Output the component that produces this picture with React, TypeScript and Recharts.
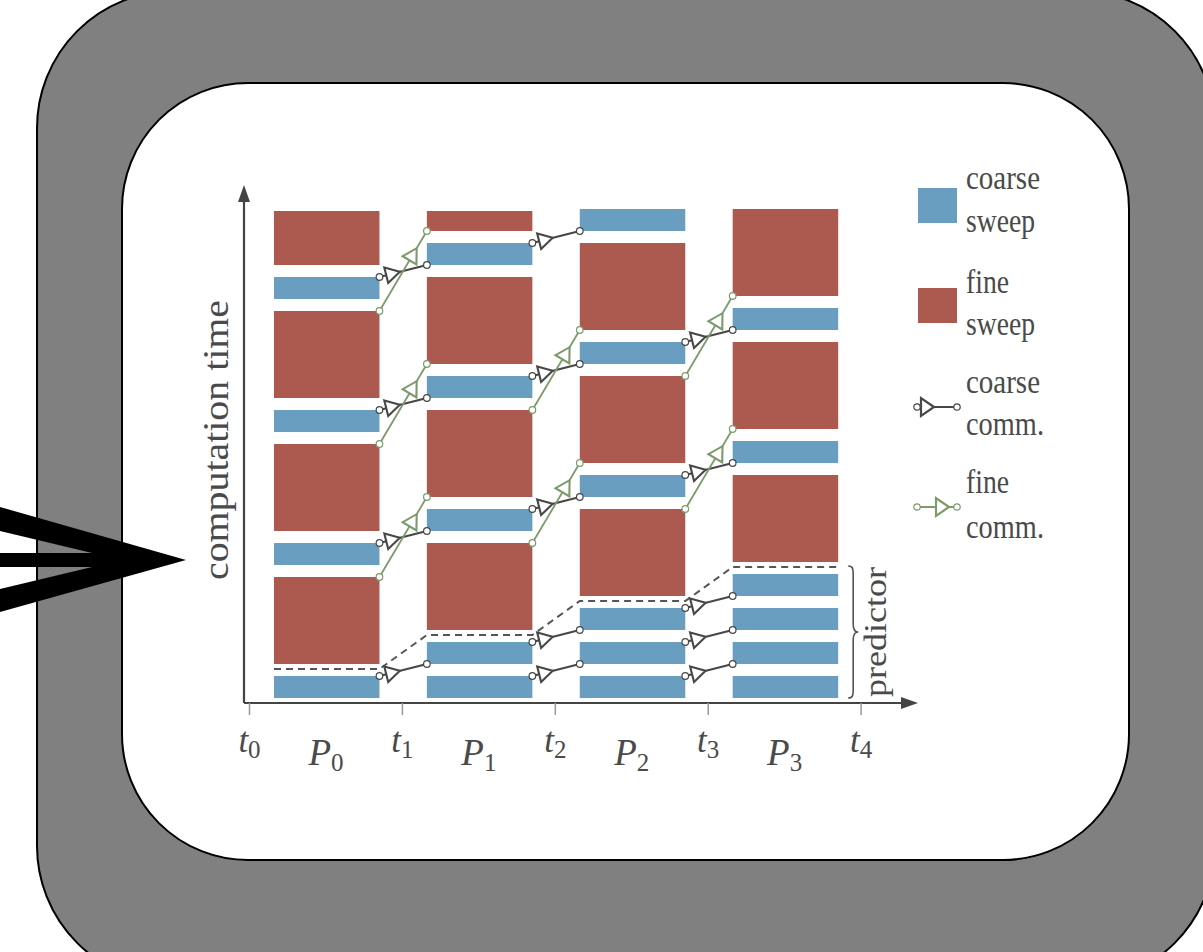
import React from 'react';
import { ComposedChart, XAxis, YAxis, ReferenceArea, ReferenceLine, Line, Legend } from 'recharts';

// ---------- data ----------
// time-slice boundaries on the x axis (t_0 ... t_4)
const sliceTicks = [0, 1, 2, 3, 4];
const sliceLabels = ['0', '1', '2', '3', '4'];
// processors, drawn between two slice boundaries (P_0 ... P_3)
const procTicks = [0.5, 1.5, 2.5, 3.5];
const procLabels = ['0', '1', '2', '3'];
const yAxisTitle = 'computation time';
const braceLabel = 'predictor';

// coarse sweeps: [processor, start, end] in computation-time units
const coarseSweeps: number[][] = [
  [0, 0, 22], [0, 133, 155], [0, 266, 288], [0, 399, 421],
  [1, 0, 22], [1, 34, 56], [1, 167, 189], [1, 300, 322], [1, 433, 455],
  [2, 0, 22], [2, 34, 56], [2, 68, 90], [2, 201, 223], [2, 334, 356], [2, 467, 489],
  [3, 0, 22], [3, 34, 56], [3, 68, 90], [3, 102, 124], [3, 235, 257], [3, 368, 390],
];
// fine sweeps: [processor, start, end]
const fineSweeps: number[][] = [
  [0, 34, 121], [0, 167, 254], [0, 300, 387], [0, 433, 487],
  [1, 68, 155], [1, 201, 288], [1, 334, 421], [1, 467, 487],
  [2, 102, 189], [2, 235, 322], [2, 368, 455],
  [3, 136, 223], [3, 269, 356], [3, 402, 489],
];
// coarse communication: [from processor, send time, receive time]
const coarseComms: number[][] = [
  [0, 22, 34], [0, 155, 167], [0, 288, 300], [0, 421, 433],
  [1, 22, 34], [1, 56, 68], [1, 189, 201], [1, 322, 334], [1, 455, 467],
  [2, 22, 34], [2, 56, 68], [2, 90, 102], [2, 223, 235], [2, 356, 368],
];
// fine communication: [from processor, send time, receive time]
const fineComms: number[][] = [
  [0, 121, 201], [0, 254, 334], [0, 387, 467],
  [1, 155, 235], [1, 288, 368],
  [2, 189, 269], [2, 322, 402],
];
// end of predictor phase per processor
const predictorEnd = [29, 63, 97, 131];
const predictorSpan = [0, 132];

// ---------- layout / style ----------
const PAD_L = 0.16;
const PAD_R = 0.15;
const X_MIN = -0.036;
const X_MAX = 4.372;
const Y_MIN = -5;
const Y_MAX = 513;

const BLUE = '#6a9ec0';
const RED = '#ac5a4f';
const DARK = '#474747';
const GREEN = '#7c9a6c';
const TEXT = '#4a4a4a';
const FONT = "'Liberation Serif', 'DejaVu Serif', serif";

const predictorPoints = predictorEnd.flatMap((v, i) => [
  { x: i + PAD_L, y: v },
  { x: i + 1 - PAD_R, y: v },
]);

const axisTicks = [...sliceTicks, ...procTicks].sort((a, b) => a - b);

function commShape(color: string, kind: 'coarse' | 'fine', width: number) {
  return (props: any) => {
    const { x1, y1, x2, y2 } = props;
    const dx = x2 - x1;
    const dy = y2 - y1;
    const len = Math.hypot(dx, dy) || 1;
    const ux = dx / len;
    const uy = dy / len;
    const nx = -uy;
    const ny = ux;
    const b = kind === 'coarse' ? 7 : len - 34;
    const a = kind === 'coarse' ? 21 : len - 20;
    const bx = x1 + ux * b;
    const by = y1 + uy * b;
    const ax = x1 + ux * a;
    const ay = y1 + uy * a;
    const hw = 8;
    const tri = `${ax},${ay} ${bx + nx * hw},${by + ny * hw} ${bx - nx * hw},${by - ny * hw}`;
    return (
      <g>
        <line x1={x1} y1={y1} x2={x2} y2={y2} stroke={color} strokeWidth={width} />
        <polygon points={tri} fill="white" stroke={color} strokeWidth={2.1} strokeLinejoin="miter" />
        <circle cx={x1} cy={y1} r={3.3} fill="white" stroke={color} strokeWidth={1.2} />
        <circle cx={x2} cy={y2} r={3.3} fill="white" stroke={color} strokeWidth={1.2} />
      </g>
    );
  };
}

function arrowParts(x1: number, y1: number, x2: number, y2: number) {
  const dx = x2 - x1;
  const dy = y2 - y1;
  const len = Math.hypot(dx, dy) || 1;
  const ux = dx / len;
  const uy = dy / len;
  const L = 17;
  const hw = 6;
  const bx = x2 - ux * L;
  const by = y2 - uy * L;
  const tri = `${x2},${y2} ${bx - uy * hw},${by + ux * hw} ${bx + uy * hw},${by - ux * hw}`;
  return (
    <>
      <line x1={x1} y1={y1} x2={bx + ux * 2} y2={by + uy * 2} stroke="#444" strokeWidth={2.2} />
      <polygon points={tri} fill="#444" stroke="none" />
    </>
  );
}

const xAxisShape = (props: any) => {
  const { x1, y1, x2, y2 } = props;
  return <g>{arrowParts(x1, y1, x2, y2)}</g>;
};

const yAxisShape = (props: any) => {
  const { x1, y1, x2, y2 } = props;
  const cy = (y1 + y2) / 2 - 4;
  return (
    <g>
      {arrowParts(x1, y1, x2, y2)}
      <text
        transform={`translate(${x1 - 16}, ${cy}) rotate(-90)`}
        textAnchor="middle"
        fontFamily={FONT}
        fontSize={35}
        fill={TEXT}
        textLength={280}
        lengthAdjust="spacingAndGlyphs"
      >
        {yAxisTitle}
      </text>
    </g>
  );
};

const braceShape = (props: any) => {
  const { x1, y1, y2 } = props;
  const yt = Math.min(y1, y2);
  const yb = Math.max(y1, y2);
  const ym = (yt + yb) / 2;
  const x0 = x1 + 10;
  const d = `M ${x0} ${yt} C ${x0 + 5} ${yt} ${x0 + 5} ${yt + 3} ${x0 + 5} ${yt + 10} L ${x0 + 5} ${ym - 8} C ${x0 + 5} ${ym - 3} ${x0 + 6} ${ym} ${x0 + 10} ${ym} C ${x0 + 6} ${ym} ${x0 + 5} ${ym + 3} ${x0 + 5} ${ym + 8} L ${x0 + 5} ${yb - 10} C ${x0 + 5} ${yb - 3} ${x0 + 5} ${yb} ${x0} ${yb}`;
  return (
    <g>
      <path d={d} fill="none" stroke="#555" strokeWidth={1.6} />
      <text
        transform={`translate(${x1 + 48}, ${ym}) rotate(-90)`}
        textAnchor="middle"
        fontFamily={FONT}
        fontSize={32}
        fill={TEXT}
        textLength={130}
        lengthAdjust="spacingAndGlyphs"
      >
        {braceLabel}
      </text>
    </g>
  );
};

const AxisTick = (props: any) => {
  const { x, y, payload } = props;
  const v = payload.value;
  const si = sliceTicks.indexOf(v);
  if (si >= 0) {
    return (
      <g>
        <line x1={x} y1={y} x2={x} y2={y + 12} stroke="#9a9a9a" strokeWidth={1.5} />
        <text x={x} y={y + 49} textAnchor="middle" fontFamily={FONT} fontSize={35} fill={TEXT}>
          <tspan fontStyle="italic">t</tspan>
          <tspan fontSize={25} dy={6}>{sliceLabels[si]}</tspan>
        </text>
      </g>
    );
  }
  const pi = procTicks.indexOf(v);
  if (pi >= 0) {
    return (
      <text x={x} y={y + 62} textAnchor="middle" fontFamily={FONT} fontSize={37} fill={TEXT}>
        <tspan fontStyle="italic">P</tspan>
        <tspan fontSize={25} dy={6}>{procLabels[pi]}</tspan>
      </text>
    );
  }
  return null;
};

const legendItems = [
  { key: 'cs', kind: 'coarseSweep', lines: ['coarse', 'sweep'] },
  { key: 'fs', kind: 'fineSweep', lines: ['fine', 'sweep'] },
  { key: 'cc', kind: 'coarseComm', lines: ['coarse', 'comm.'] },
  { key: 'fc', kind: 'fineComm', lines: ['fine', 'comm.'] },
];
const legendWordWidth: Record<string, number> = { coarse: 74, sweep: 69, fine: 43, 'comm.': 78 };

const LegendBox = () => {
  const baselines = [[34, 77], [138, 180], [238, 280], [338, 383]];
  const iconY = [50, 150, 252, 352];
  return (
    <svg width={200} height={400} style={{ display: 'block', overflow: 'visible' }}>
      {legendItems.map((it, i) => {
        const cy = iconY[i];
        let icon: any = null;
        if (it.kind === 'coarseSweep' || it.kind === 'fineSweep') {
          icon = <rect x={8} y={cy - 17} width={39} height={35} fill={it.kind === 'coarseSweep' ? BLUE : RED} />;
        } else if (it.kind === 'coarseComm') {
          icon = (
            <g>
              <line x1={7} y1={cy} x2={47} y2={cy} stroke={DARK} strokeWidth={2.2} />
              <polygon points={`${24},${cy} ${11},${cy - 9} ${11},${cy + 9}`} fill="white" stroke={DARK} strokeWidth={2.2} />
              <circle cx={7} cy={cy} r={3.2} fill="white" stroke={DARK} strokeWidth={1.2} />
              <circle cx={47} cy={cy} r={3.2} fill="white" stroke={DARK} strokeWidth={1.2} />
            </g>
          );
        } else {
          icon = (
            <g>
              <line x1={7} y1={cy} x2={47} y2={cy} stroke={GREEN} strokeWidth={2.2} />
              <polygon points={`${39},${cy} ${26},${cy - 9} ${26},${cy + 9}`} fill="white" stroke={GREEN} strokeWidth={2.2} />
              <circle cx={7} cy={cy} r={3.2} fill="white" stroke={GREEN} strokeWidth={1.2} />
              <circle cx={47} cy={cy} r={3.2} fill="white" stroke={GREEN} strokeWidth={1.2} />
            </g>
          );
        }
        return (
          <g key={it.key}>
            {icon}
            {it.lines.map((w, j) => (
              <text
                key={j}
                x={56}
                y={baselines[i][j]}
                fontFamily={FONT}
                fontSize={34}
                fill={TEXT}
                textLength={legendWordWidth[w]}
                lengthAdjust="spacingAndGlyphs"
              >
                {w}
              </text>
            ))}
          </g>
        );
      })}
    </svg>
  );
};

export default function App() {
  return (
    <div style={{ position: 'absolute', left: 0, top: 0, width: 1203, height: 952, overflow: 'hidden', background: 'white' }}>
      <svg style={{ position: 'absolute', left: 0, top: 0 }} width={1203} height={952}>
        <rect x={37} y={-9} width={1178} height={992} rx={137} ry={137} fill="#808080" stroke="#000" strokeWidth={2} />
        <rect x={122} y={83} width={1007} height={777} rx={126} ry={126} fill="#ffffff" stroke="#000" strokeWidth={2} />
        <path d="M0,507 L186,560 L0,612 L0,589 L92,567 L0,567 L0,553 L92,553 L0,531 Z" fill="#000" />
      </svg>
      <div style={{ position: 'absolute', left: 0, top: 0 }}>
        <ComposedChart width={1203} height={952} margin={{ top: 185, right: 285, bottom: 169, left: 244 }}>
          <XAxis
            type="number"
            dataKey="x"
            domain={[X_MIN, X_MAX]}
            allowDataOverflow
            ticks={axisTicks}
            interval={0}
            tick={<AxisTick />}
            tickLine={false}
            axisLine={false}
            tickSize={0}
            tickMargin={0}
            height={80}
          />
          <YAxis
            type="number"
            domain={[Y_MIN, Y_MAX]}
            allowDataOverflow
            tick={false}
            tickLine={false}
            axisLine={false}
            width={0}
          />
          <Legend
            layout="horizontal"
            verticalAlign="middle"
            align="center"
            content={() => <LegendBox />}
            wrapperStyle={{ left: 910, top: 155, width: 200, height: 400 }}
          />
          {coarseSweeps.map(([p, s, e], i) => (
            <ReferenceArea
              key={`c${i}`}
              x1={p + PAD_L}
              x2={p + 1 - PAD_R}
              y1={s}
              y2={e}
              fill={BLUE}
              fillOpacity={1}
              stroke="none"
              ifOverflow="hidden"
            />
          ))}
          {fineSweeps.map(([p, s, e], i) => (
            <ReferenceArea
              key={`f${i}`}
              x1={p + PAD_L}
              x2={p + 1 - PAD_R}
              y1={s}
              y2={e}
              fill={RED}
              fillOpacity={1}
              stroke="none"
              ifOverflow="hidden"
            />
          ))}
          <Line
            data={predictorPoints}
            dataKey="y"
            type="linear"
            stroke="#555"
            strokeWidth={2}
            strokeDasharray="7 5"
            dot={false}
            activeDot={false}
            isAnimationActive={false}
            legendType="none"
          />
          {coarseComms.map(([p, s, r], i) => (
            <ReferenceLine
              key={`cc${i}`}
              segment={[{ x: p + 1 - PAD_R, y: s }, { x: p + 1 + PAD_L, y: r }]}
              ifOverflow="visible"
              shape={commShape(DARK, 'coarse', 2.2)}
            />
          ))}
          {fineComms.map(([p, s, r], i) => (
            <ReferenceLine
              key={`fc${i}`}
              segment={[{ x: p + 1 - PAD_R, y: s }, { x: p + 1 + PAD_L, y: r }]}
              ifOverflow="visible"
              shape={commShape(GREEN, 'fine', 1.8)}
            />
          ))}
          <ReferenceLine
            segment={[{ x: 4 - PAD_R, y: predictorSpan[0] }, { x: 4 - PAD_R, y: predictorSpan[1] }]}
            ifOverflow="visible"
            shape={braceShape}
          />
          <ReferenceLine
            segment={[{ x: X_MIN, y: Y_MIN }, { x: X_MAX, y: Y_MIN }]}
            ifOverflow="visible"
            shape={xAxisShape}
          />
          <ReferenceLine
            segment={[{ x: X_MIN, y: Y_MIN }, { x: X_MIN, y: Y_MAX }]}
            ifOverflow="visible"
            shape={yAxisShape}
          />
        </ComposedChart>
      </div>
    </div>
  );
}
